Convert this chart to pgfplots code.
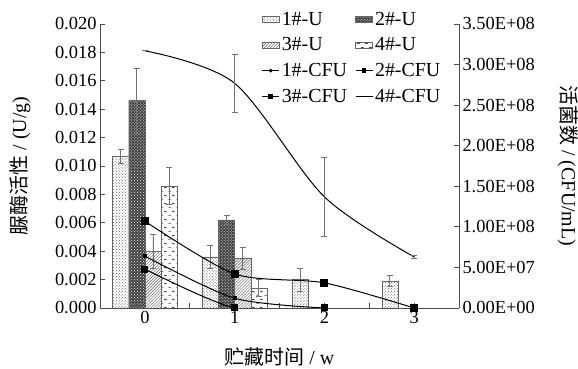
\documentclass[border=0pt]{standalone}
\usepackage{pgfplots}
\pgfplotsset{compat=1.18}
\usepackage{fontspec}
\setmainfont{Liberation Serif}
\newfontfamily\cjk{Noto Sans CJK SC}
\usetikzlibrary{patterns}
\pgfdeclarepatternformonly{hdash}{\pgfpointorigin}{\pgfqpoint{8bp}{8bp}}{\pgfqpoint{8bp}{8bp}}{%
  \pgfsetlinewidth{0.9bp}%
  \pgfpathmoveto{\pgfqpoint{0.5bp}{2bp}}\pgfpathlineto{\pgfqpoint{3.5bp}{2bp}}%
  \pgfpathmoveto{\pgfqpoint{4.5bp}{6bp}}\pgfpathlineto{\pgfqpoint{7.5bp}{6bp}}%
  \pgfusepath{stroke}}
\def\fs{\fontsize{18.5}{21}\selectfont}
\def\fl{\fontsize{20}{23}\selectfont}
\pgfplotsset{
  bA/.style={draw=black!60, pattern=crosshatch dots, pattern color=black!60},
  bB/.style={draw=black!60, fill=black!75, postaction={pattern=crosshatch dots, pattern color=white}},
  bC/.style={draw=black!60, pattern=north east lines, pattern color=black!65},
  bD/.style={draw=black!60, pattern=hdash, pattern color=black!70},
  eb/.style={error bars/.cd, y dir=both, y explicit,
     error bar style={black!55, line width=0.8bp},
     error mark options={black!55, line width=0.8bp, mark size=3bp, rotate=90}},
}
\begin{document}
\begin{tikzpicture}
\path[use as bounding box] (0,0) rectangle (578bp,369bp);
\begin{axis}[
  at={(100bp,61bp)}, anchor=south west, scale only axis,
  width=359bp, height=284bp,
  xmin=-0.5, xmax=3.5, ymin=0, ymax=0.020,
  axis x line*=bottom, axis y line*=left,
  axis line style={-, black!70, line width=0.9bp},
  xtick={0,1,2,3}, minor xtick={0.5,1.5,2.5},
  ytick={0,0.002,0.004,0.006,0.008,0.010,0.012,0.014,0.016,0.018,0.020},
  scaled y ticks=false,
  tick align=inside, major tick length=5bp, minor tick length=5bp,
  every tick/.style={black!70, line width=0.9bp},
  /pgf/number format/assume math mode=true,
  yticklabel style={/pgf/number format/fixed, /pgf/number format/fixed zerofill, /pgf/number format/precision=3, font=\fs},
  xticklabel style={font=\fs},
  ylabel={{\cjk 脲酶活性} / (U/g)},
  ylabel style={font=\fl, at={(axis description cs:-0.223,0.5)}, anchor=center},
  xlabel={{\cjk 贮藏时间} / w},
  xlabel style={font=\fl, at={(axis description cs:0.5,-0.173)}, anchor=center},
]
\addplot[ybar, bar width=0.18, bar shift=0, bA, eb] coordinates {
  (-0.27,0.0107) +- (0,0.0005) (0.73,0.0036) +- (0,0.0008) (1.73,0.0020) +- (0,0.0008) (2.73,0.0019) +- (0,0.0004)};
\addplot[ybar, bar width=0.18, bar shift=0, bB, eb] coordinates {
  (-0.09,0.0146) +- (0,0.0023) (0.91,0.0062) +- (0,0.0003)};
\addplot[ybar, bar width=0.18, bar shift=0, bC, eb] coordinates {
  (0.09,0.0040) +- (0,0.0012) (1.09,0.0035) +- (0,0.0008)};
\addplot[ybar, bar width=0.18, bar shift=0, bD, eb] coordinates {
  (0.27,0.0086) +- (0,0.0013) (1.27,0.0014) +- (0,0.0006)};
\end{axis}
\begin{axis}[
  at={(100bp,61bp)}, anchor=south west, scale only axis,
  width=359bp, height=284bp,
  xmin=-0.5, xmax=3.5, ymin=0, ymax=3.5e8,
  hide x axis, axis y line*=right,
  axis line style={-, black!70, line width=0.9bp},
  ytick={0,0.5e8,1e8,1.5e8,2e8,2.5e8,3e8,3.5e8},
  yticklabels={0.00E+00,5.00E+07,1.00E+08,1.50E+08,2.00E+08,2.50E+08,3.00E+08,3.50E+08},
  scaled y ticks=false,
  tick align=inside, major tick length=5bp,
  every tick/.style={black!70, line width=0.9bp},
  yticklabel style={font=\fs},
  ylabel={{\cjk 活菌数} / (CFU/mL)},
  ylabel style={font=\fl, rotate=180, at={(axis description cs:1.304,0.5)}, anchor=center},
  legend style={at={(0.45,1.05)}, anchor=north west, draw=none, fill=none, font=\fl,
     inner sep=0pt, row sep=7bp, /tikz/every even column/.append style={column sep=6bp}},
  legend columns=2, legend cell align=left,
]
\addlegendimage{area legend, bA}
\addlegendimage{area legend, bB}
\addlegendimage{area legend, bC}
\addlegendimage{area legend, bD}
\addlegendimage{black, line width=1bp, mark=*, mark size=1.3bp}
\addlegendimage{black, line width=1bp, mark=square*, mark size=1.8bp}
\addlegendimage{black, line width=1bp, mark=square*, mark size=1.8bp}
\addlegendimage{black, line width=1bp}
\addplot[forget plot, black, line width=1bp, smooth, tension=0.45, mark=square*, mark size=1.4bp, mark options={solid}] coordinates {
  (0,0.64e8) (1,0.12e8) (2,0.0)};
\addplot[forget plot, black, line width=1bp, smooth, tension=0.45, mark=square*, mark size=3.5bp, mark options={solid}, eb] coordinates {
  (0,1.07e8) +- (0,0) (1,0.42e8) +- (0,0) (2,0.31e8) +- (0,0.03e8) (3,0.0) +- (0,0)};
\addplot[forget plot, black, line width=1bp, smooth, tension=0.45, mark=square*, mark size=3bp, mark options={solid}] coordinates {
  (0,0.48e8) (1,0.0) (2,0.0)};
\addplot[forget plot, black, line width=1bp, smooth, tension=0.5, eb] coordinates {
  (0,3.17e8) +- (0,0) (1,2.77e8) +- (0,0.36e8) (2,1.37e8) +- (0,0.49e8) (3,0.63e8) +- (0,0.02e8)};
\legend{1\#-U,2\#-U,3\#-U,4\#-U,1\#-CFU,2\#-CFU,3\#-CFU,4\#-CFU}
\end{axis}
\end{tikzpicture}
\end{document}
